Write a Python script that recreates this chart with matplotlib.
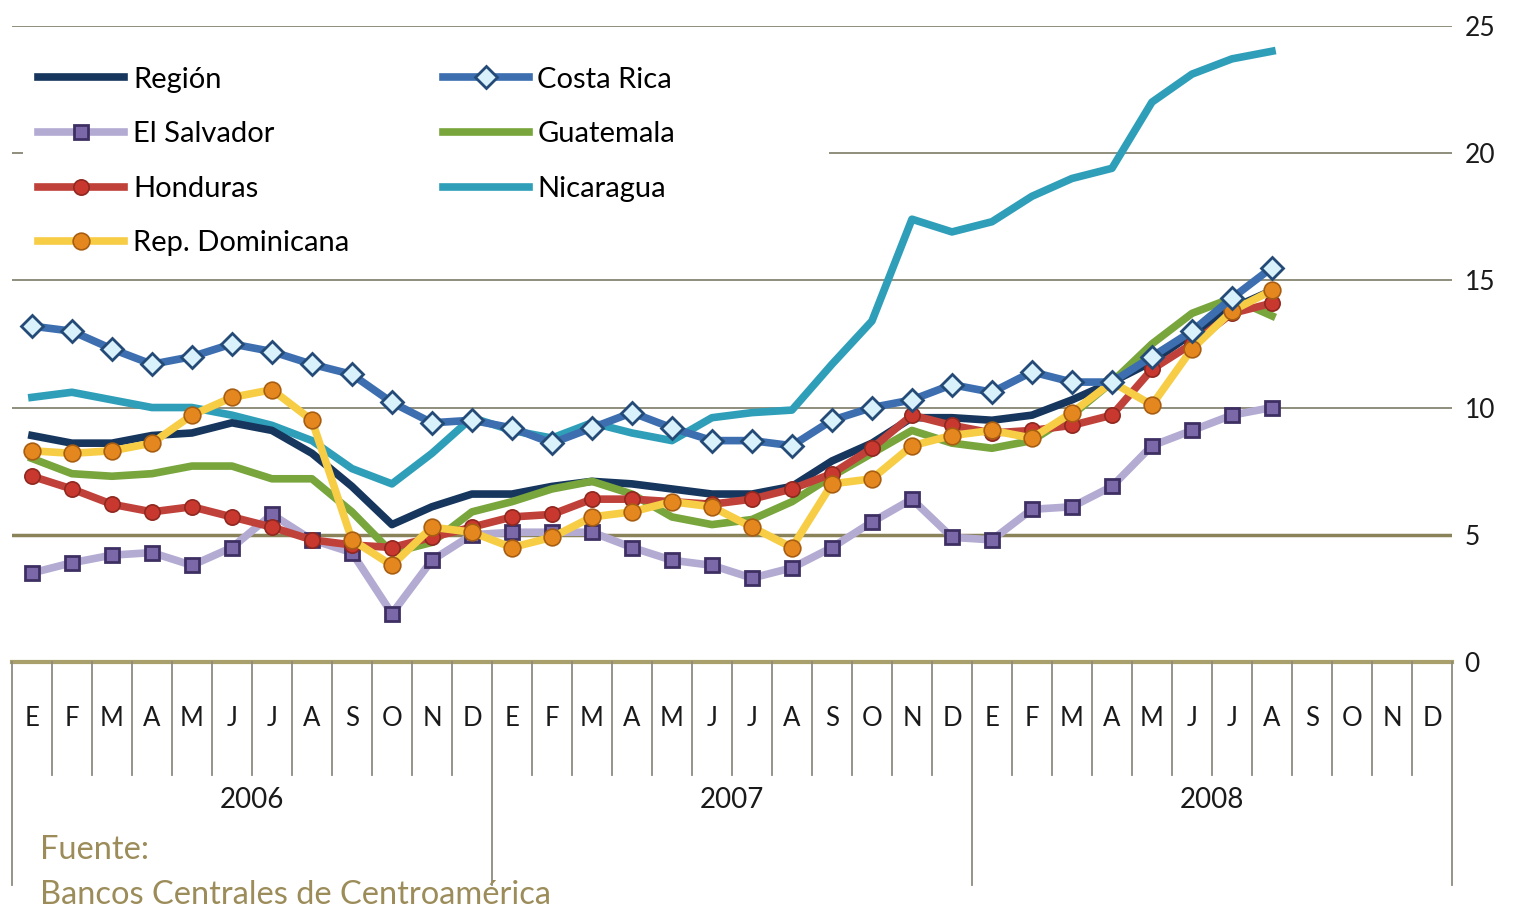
import matplotlib
matplotlib.use("Agg")
import matplotlib.pyplot as plt
import matplotlib.transforms as mtransforms
import numpy as np

plt.rcParams["font.family"] = ["Lato", "DejaVu Sans"]

# monthly values, Jan 2006 .. Aug 2008 (x axis runs to Dec 2008)
month_letters = ["E", "F", "M", "A", "M", "J", "J", "A", "S", "O", "N", "D"]
years = ["2006", "2007", "2008"]

region = [8.9, 8.6, 8.6, 8.9, 9.0, 9.4, 9.1, 8.2, 6.9, 5.4, 6.1, 6.6,
          6.6, 6.9, 7.1, 7.0, 6.8, 6.6, 6.6, 6.9, 7.9, 8.6, 9.6, 9.6,
          9.5, 9.7, 10.3, 11.0, 11.8, 12.9, 13.9, 14.6]
costa_rica = [13.2, 13.0, 12.3, 11.7, 12.0, 12.5, 12.2, 11.7, 11.3, 10.2, 9.4, 9.5,
              9.2, 8.6, 9.2, 9.8, 9.2, 8.7, 8.7, 8.5, 9.5, 10.0, 10.3, 10.9,
              10.6, 11.4, 11.0, 11.0, 12.0, 13.0, 14.3, 15.5]
el_salvador = [3.5, 3.9, 4.2, 4.3, 3.8, 4.5, 5.8, 4.8, 4.3, 1.9, 4.0, 5.0,
               5.1, 5.1, 5.1, 4.5, 4.0, 3.8, 3.3, 3.7, 4.5, 5.5, 6.4, 4.9,
               4.8, 6.0, 6.1, 6.9, 8.5, 9.1, 9.7, 10.0]
guatemala = [8.0, 7.4, 7.3, 7.4, 7.7, 7.7, 7.2, 7.2, 5.9, 4.3, 4.7, 5.9,
             6.3, 6.8, 7.1, 6.6, 5.7, 5.4, 5.6, 6.3, 7.3, 8.2, 9.1, 8.6,
             8.4, 8.7, 9.7, 11.0, 12.5, 13.7, 14.3, 13.6]
honduras = [7.3, 6.8, 6.2, 5.9, 6.1, 5.7, 5.3, 4.8, 4.6, 4.5, 4.9, 5.3,
            5.7, 5.8, 6.4, 6.4, 6.3, 6.2, 6.4, 6.8, 7.4, 8.4, 9.7, 9.3,
            9.0, 9.1, 9.3, 9.7, 11.5, 12.5, 13.7, 14.1]
nicaragua = [10.4, 10.6, 10.3, 10.0, 10.0, 9.7, 9.3, 8.7, 7.6, 7.0, 8.2, 9.6,
             9.1, 8.8, 9.4, 9.0, 8.7, 9.6, 9.8, 9.9, 11.7, 13.4, 17.4, 16.9,
             17.3, 18.3, 19.0, 19.4, 22.0, 23.1, 23.7, 24.0]
rep_dominicana = [8.3, 8.2, 8.3, 8.6, 9.7, 10.4, 10.7, 9.5, 4.8, 3.8, 5.3, 5.1,
                  4.5, 4.9, 5.7, 5.9, 6.3, 6.1, 5.3, 4.5, 7.0, 7.2, 8.5, 8.9,
                  9.1, 8.8, 9.8, 11.0, 10.1, 12.3, 13.8, 14.6]
yticks = [0, 5, 10, 15, 20, 25]

fig = plt.figure(figsize=(15.3, 9.11), dpi=100)
ax = fig.add_axes([0.0078, 0.2733, 0.9412, 0.6984])

n_months = len(month_letters) * len(years)
x = np.arange(len(region))

lw = 5.5
h = {}
h["Nicaragua"], = ax.plot(x, nicaragua, color="#2f9fb9", lw=lw, zorder=3)
h["Región"], = ax.plot(x, region, color="#17365d", lw=lw, zorder=3)
h["Guatemala"], = ax.plot(x, guatemala, color="#78a53c", lw=lw, zorder=3)
h["El Salvador"], = ax.plot(x, el_salvador, color="#b4abd3", lw=lw, zorder=4,
                            marker="s", ms=10, mfc="#7a68a8", mec="#3e2f63", mew=2)
h["Honduras"], = ax.plot(x, honduras, color="#c0413a", lw=lw, zorder=4,
                         marker="o", ms=11, mfc="#c8382e", mec="#8e2820", mew=1.2)
h["Rep. Dominicana"], = ax.plot(x, rep_dominicana, color="#f7cd45", lw=lw, zorder=4,
                                marker="o", ms=12, mfc="#e5871f", mec="#a85e12", mew=1.2)
h["Costa Rica"], = ax.plot(x, costa_rica, color="#3d6fb0", lw=lw, zorder=5,
                           marker="D", ms=11, mfc="#d9f1fb", mec="#244a78", mew=2)

ax.set_xlim(-0.5, n_months - 0.5)
ax.set_ylim(0, 25)

# gridlines (the one at 20 is hidden behind the legend on the left)
for v in yticks[1:]:
    if v == 5:
        ax.axhline(v, color="#8a8258", lw=2.5, zorder=1)
    elif v == 20:
        ax.axhline(v, xmin=0.568, color="#8f8d7c", lw=1.4, zorder=1)
        ax.axhline(v, xmax=0.007, color="#8f8d7c", lw=1.4, zorder=1)
    else:
        ax.axhline(v, color="#8f8d7c", lw=1.4, zorder=1)
ax.axhline(0, color="#a89f6a", lw=3, zorder=2, clip_on=False)

for s in ax.spines.values():
    s.set_visible(False)
ax.yaxis.tick_right()
ax.set_yticks(yticks)
ax.tick_params(axis="y", length=0, pad=9, labelsize=19, labelcolor="#1a1a1a")
ax.set_xticks([])

# category axis below the plot: month cells and year groups
trans = mtransforms.blended_transform_factory(ax.transData, ax.transAxes)
for k in range(n_months + 1):
    xb = k - 0.5
    ybot = -0.35 if k % 12 == 0 else -0.178
    ax.plot([xb, xb], [0, ybot], color="#8c8a80", lw=1.3, transform=trans,
            clip_on=False)
for k in range(n_months):
    ax.text(k, -0.088, month_letters[k % 12], transform=trans, ha="center",
            va="center", fontsize=18.5, color="#1a1a1a")
for j, yr in enumerate(years):
    ax.text(j * 12 + 5.5, -0.217, yr, transform=trans, ha="center", va="center",
            fontsize=20, color="#1a1a1a")

order = ["Región", "El Salvador", "Honduras", "Rep. Dominicana",
         "Costa Rica", "Guatemala", "Nicaragua"]
leg = ax.legend([h[k] for k in order], order, ncol=2, loc="upper left",
                bbox_to_anchor=(0.0, 0.977), frameon=False, fontsize=21,
                handlelength=2.95, handletextpad=0.3, columnspacing=3.2,
                labelspacing=0.98, numpoints=1)

fig.text(0.026, 0.067, "Fuente:", fontsize=23.5, color="#9c8c5a", va="center")
fig.text(0.026, 0.018, "Bancos Centrales de Centroamérica", fontsize=23.5,
         color="#9c8c5a", va="center")

fig.savefig("out.png", dpi=100)
